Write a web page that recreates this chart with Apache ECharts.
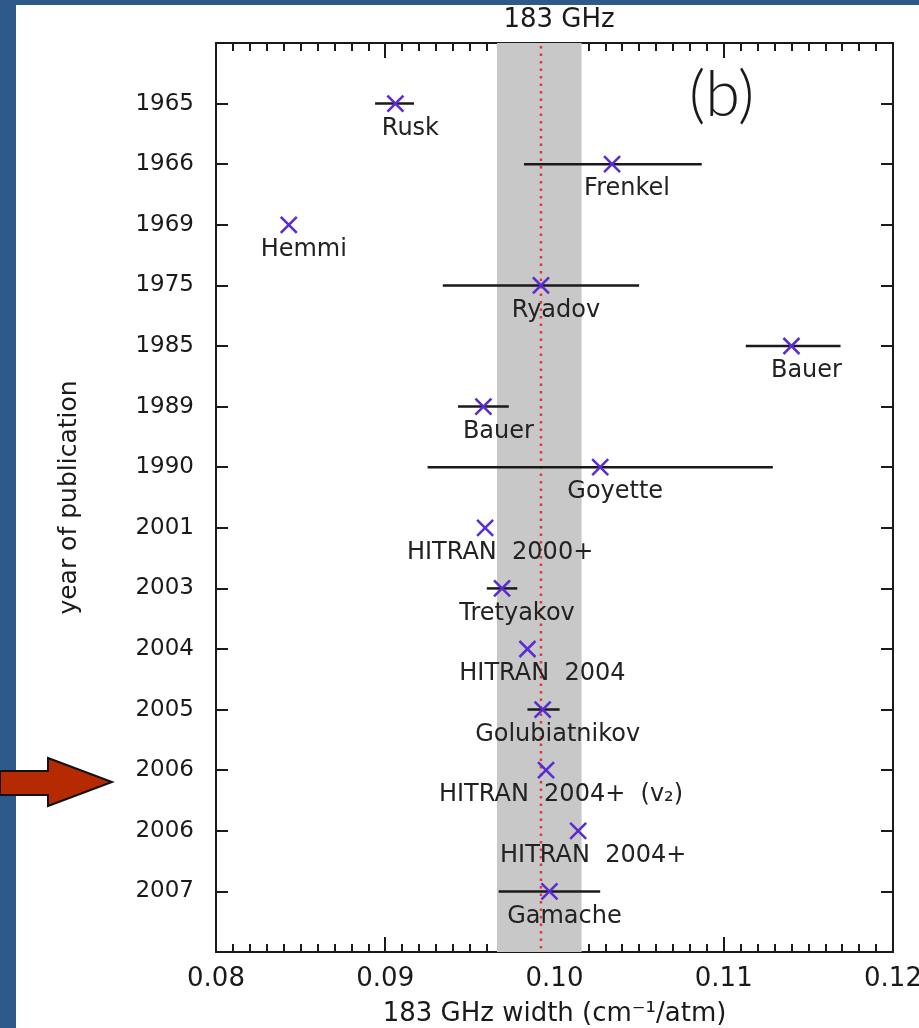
<!DOCTYPE html>
<html>
<head>
<meta charset="utf-8">
<title>183 GHz width by year of publication</title>
<script src="https://cdn.jsdelivr.net/npm/echarts@6/dist/echarts.min.js"></script>
<style>
  html, body { margin: 0; padding: 0; background: #2e5a8a; }
  #chart { width: 919px; height: 1028px; }
</style>
</head>
<body>
<div id="chart"></div>
<script>
// Publication year of each measurement / compilation (top to bottom)
const years = ['1965', '1966', '1969', '1975', '1985', '1989', '1990', '2001', '2003', '2004', '2005', '2006', '2006', '2007'];
const authors = ['Rusk', 'Frenkel', 'Hemmi', 'Ryadov', 'Bauer', 'Bauer', 'Goyette', 'HITRAN  2000+', 'Tretyakov',
                 'HITRAN  2004', 'Golubiatnikov', 'HITRAN  2004+  (v\u2082)', 'HITRAN  2004+', 'Gamache'];
// Air-broadened width of the 183 GHz line, cm^-1/atm
const widths = [0.0906, 0.1034, 0.0843, 0.0992, 0.1140, 0.0958, 0.1027, 0.0959, 0.0969, 0.0984, 0.0993, 0.0995, 0.1014, 0.0997];
// Quoted uncertainty range (null where none is given)
const errLow  = [0.0894, 0.0982, null, 0.0934, 0.1113, 0.0943, 0.0925, null, 0.0960, null, 0.0984, null, null, 0.0967];
const errHigh = [0.0917, 0.1087, null, 0.1050, 0.1169, 0.0973, 0.1129, null, 0.0978, null, 0.1003, null, null, 0.1027];
// Consensus value and its spread
const consensus = 0.0992;
const bandLow = 0.0966;
const bandHigh = 0.1016;
// Axis ticks
const xTicks = { min: 0.08, max: 0.12, step: 0.01 };

const FONT = 'DejaVu Sans';
const INK = '#1a1a1a';
const MARK = '#5a2bd2';

const rows = years.map((y, i) => i + 1);
const yMax = years.length + 1;
const pointData = widths.map((w, i) => [w, rows[i]]);
const errData = widths.map((w, i) => [rows[i], errLow[i], errHigh[i]]).filter(d => d[1] !== null);

const chart = echarts.init(document.getElementById('chart'), null, { renderer: 'canvas' });

function xAxisBase() {
  return {
    type: 'value', min: xTicks.min, max: xTicks.max, interval: xTicks.step,
    axisLine: { show: true, onZero: false, lineStyle: { color: INK, width: 2 } },
    axisTick: { show: true, inside: true, length: 15, lineStyle: { color: INK, width: 2 } },
    minorTick: { show: true, splitNumber: 10, length: 8, lineStyle: { color: INK, width: 2 } },
    splitLine: { show: false },
    minorSplitLine: { show: false }
  };
}
function yAxisBase() {
  return {
    type: 'value', min: 0, max: yMax, interval: 1, inverse: true,
    axisLine: { show: true, onZero: false, lineStyle: { color: INK, width: 2 } },
    axisTick: { show: true, inside: true, length: 12, lineStyle: { color: INK, width: 2 } },
    splitLine: { show: false }
  };
}

chart.setOption({
  backgroundColor: '#2e5a8a',
  animation: false,
  title: {
    text: '183 GHz', left: 554, top: 2, textAlign: 'center',
    textStyle: { fontFamily: FONT, fontSize: 26, fontWeight: 'normal', color: INK }
  },
  graphic: [
    { type: 'rect', left: 16, top: 5, shape: { width: 903, height: 1023 }, style: { fill: '#ffffff' }, z: -10 },
    {
      type: 'polygon', z: 100,
      shape: { points: [[0, 771], [48, 771], [48, 758], [112, 782], [48, 806], [48, 795], [0, 795]] },
      style: { fill: '#b52a00', stroke: '#111', lineWidth: 2 }
    },
    {
      type: 'text', left: 689, top: 64, z: 100,
      style: { text: '(b)', font: '300 63px Lato', fill: INK }
    }
  ],
  grid: { left: 216, top: 43, width: 677, height: 909, containLabel: false, outerBoundsMode: 'none' },
  xAxis: [
    Object.assign(xAxisBase(), {
      position: 'bottom',
      axisLabel: { show: true, margin: 14, fontFamily: FONT, fontSize: 26, color: INK, formatter: v => v.toFixed(2) },
      name: '183 GHz width (cm\u207B\u00B9/atm)', nameLocation: 'middle', nameGap: 49,
      nameTextStyle: { fontFamily: FONT, fontSize: 26, color: INK }
    }),
    Object.assign(xAxisBase(), { position: 'top', axisLabel: { show: false } })
  ],
  yAxis: [
    Object.assign(yAxisBase(), {
      position: 'left',
      axisLabel: {
        show: true, margin: 22, fontFamily: FONT, fontSize: 23, color: INK,
        formatter: v => (v >= 1 && v <= years.length) ? years[v - 1] : ''
      },
      name: 'year of publication', nameLocation: 'middle', nameGap: 134, nameRotate: 90,
      nameTextStyle: { fontFamily: FONT, fontSize: 25, color: INK }
    }),
    Object.assign(yAxisBase(), { position: 'right', axisLabel: { show: false } })
  ],
  series: [
    {
      // grey spread band with the dotted consensus line through it
      type: 'custom', z: 1, silent: true,
      data: [[bandLow, bandHigh, consensus]],
      encode: { x: [0, 1, 2] },
      renderItem: (params, api) => {
        const a = api.coord([api.value(0), 0]);
        const b = api.coord([api.value(1), yMax]);
        const m0 = api.coord([api.value(2), 0]);
        const m1 = api.coord([api.value(2), yMax]);
        return {
          type: 'group',
          children: [
            { type: 'rect', shape: { x: a[0], y: a[1], width: b[0] - a[0], height: b[1] - a[1] }, style: { fill: '#c8c8c8' } },
            {
              type: 'line', shape: { x1: m0[0], y1: m0[1] + 3, x2: m1[0], y2: m1[1] },
              style: { stroke: '#e0393b', lineWidth: 2.5, lineDash: [2.5, 5] }
            }
          ]
        };
      }
    },
    {
      // uncertainty bars
      type: 'custom', z: 3, silent: true,
      data: errData,
      encode: { x: [1, 2], y: 0 },
      renderItem: (params, api) => {
        const y = api.value(0);
        const a = api.coord([api.value(1), y]);
        const b = api.coord([api.value(2), y]);
        return {
          type: 'line',
          shape: { x1: a[0], y1: a[1], x2: b[0], y2: b[1] },
          style: { stroke: INK, lineWidth: 2.5 }
        };
      }
    },
    {
      // measured widths: purple crosses with author labels
      type: 'custom', z: 4, silent: true,
      data: pointData,
      encode: { x: 0, y: 1 },
      renderItem: (params, api) => {
        const c = api.coord([api.value(0), api.value(1)]);
        const h = 8;
        const name = authors[params.dataIndex];
        return {
          type: 'group',
          children: [
            { type: 'line', shape: { x1: c[0] - h, y1: c[1] - h, x2: c[0] + h, y2: c[1] + h }, style: { stroke: MARK, lineWidth: 2.5 } },
            { type: 'line', shape: { x1: c[0] - h, y1: c[1] + h, x2: c[0] + h, y2: c[1] - h }, style: { stroke: MARK, lineWidth: 2.5 } },
            {
              type: 'text', x: c[0] + 15, y: c[1] + 25,
              style: { text: name, align: 'center', verticalAlign: 'middle', fontFamily: FONT, fontSize: 24, fill: '#222' }
            }
          ]
        };
      }
    }
  ]
});
</script>
</body>
</html>
